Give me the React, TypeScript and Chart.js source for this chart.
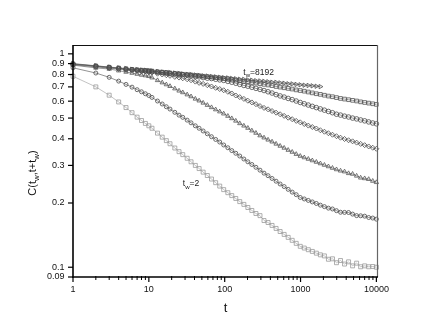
import React, { useEffect, useRef } from "react";
import { Chart, registerables } from "chart.js";

Chart.register(...registerables);

const FONT = '"Liberation Sans", Arial, Helvetica, sans-serif';

const TIMES = [
  1, 2, 3, 4, 5, 6, 7, 8, 9, 10,
  11, 13, 15, 17, 19, 22, 25, 28, 32, 36,
  41, 46, 52, 59, 67, 76, 86, 97, 110, 124,
  140, 158, 179, 202, 228, 258, 292, 330, 373, 421,
  476, 538, 608, 687, 776, 877, 991, 1120, 1266, 1430,
  1616, 1826, 2064, 2332, 2635, 2978, 3365, 3802, 4297, 4855,
  5486, 6199, 7005, 7916, 8945, 10000,
];

const TW_2 = [
  0.785, 0.70, 0.64, 0.595, 0.56, 0.53, 0.505, 0.487, 0.472, 0.46,
  0.448, 0.425, 0.407, 0.392, 0.379, 0.362, 0.348, 0.337, 0.324, 0.312,
  0.300, 0.290, 0.279, 0.269, 0.259, 0.249, 0.240, 0.231, 0.2235, 0.2166,
  0.210, 0.203, 0.197, 0.1905, 0.1845, 0.1786, 0.1745, 0.1655, 0.162, 0.157,
  0.152, 0.147, 0.1425, 0.138, 0.1337, 0.1294, 0.1253, 0.123, 0.1208, 0.1186,
  0.1164, 0.1143, 0.113, 0.109, 0.1095, 0.105, 0.1075, 0.1035, 0.106, 0.1015,
  0.1045, 0.1005, 0.1015, 0.1005, 0.1008, 0.100,
];

const TW_8 = [
  0.86, 0.813, 0.776, 0.745, 0.719, 0.698, 0.679, 0.664, 0.650, 0.638,
  0.625, 0.601, 0.582, 0.565, 0.551, 0.532, 0.516, 0.504, 0.489, 0.475,
  0.460, 0.448, 0.435, 0.422, 0.409, 0.397, 0.386, 0.374, 0.363, 0.352,
  0.342, 0.332, 0.3215, 0.312, 0.303, 0.294, 0.285, 0.276, 0.2685, 0.2606,
  0.253, 0.2455, 0.2388, 0.2317, 0.2249, 0.2188, 0.2123, 0.2089, 0.2056, 0.2023,
  0.199, 0.1954, 0.1923, 0.1892, 0.1875, 0.1841, 0.181, 0.1807, 0.1805, 0.1774,
  0.1745, 0.1742, 0.1735, 0.171, 0.1700, 0.168,
];

const TW_32 = [
  0.885, 0.859, 0.849, 0.834, 0.822, 0.813, 0.804, 0.796, 0.791, 0.785,
  0.773, 0.751, 0.733, 0.718, 0.705, 0.687, 0.671, 0.659, 0.644, 0.631,
  0.615, 0.603, 0.589, 0.575, 0.561, 0.548, 0.536, 0.524, 0.511, 0.498,
  0.485, 0.472, 0.460, 0.449, 0.4365, 0.4256, 0.414, 0.4045, 0.3954, 0.3873,
  0.3784, 0.370, 0.3622, 0.354, 0.3467, 0.3388, 0.3319, 0.3266, 0.3214, 0.3162,
  0.3112, 0.3062, 0.3013, 0.2965, 0.2917, 0.2871, 0.2831, 0.2805, 0.2754, 0.2735,
  0.2679, 0.2625, 0.2606, 0.2585, 0.2535, 0.25,
];

const TW_128 = [
  0.889, 0.869, 0.857, 0.849, 0.841, 0.838, 0.832, 0.828, 0.826, 0.822,
  0.817, 0.807, 0.80, 0.794, 0.789, 0.78, 0.774, 0.768, 0.760, 0.752,
  0.741, 0.731, 0.723, 0.713, 0.703, 0.693, 0.684, 0.675, 0.664, 0.652,
  0.638, 0.627, 0.615, 0.603, 0.592, 0.581, 0.569, 0.558, 0.5495, 0.5395,
  0.530, 0.521, 0.512, 0.502, 0.494, 0.485, 0.4775, 0.469, 0.461, 0.454,
  0.4467, 0.4385, 0.4315, 0.4246, 0.4178, 0.4111, 0.4046, 0.399, 0.3936, 0.389,
  0.3837, 0.3784, 0.3733, 0.3681, 0.3631, 0.359,
];

const TW_512 = [
  0.895, 0.875, 0.863, 0.855, 0.847, 0.843, 0.838, 0.834, 0.832, 0.828,
  0.826, 0.82, 0.817, 0.813, 0.809, 0.805, 0.802, 0.798, 0.794, 0.789,
  0.783, 0.78, 0.774, 0.769, 0.766, 0.760, 0.755, 0.751, 0.743, 0.736,
  0.728, 0.719, 0.711, 0.705, 0.697, 0.689, 0.681, 0.673, 0.664, 0.655,
  0.644, 0.635, 0.627, 0.618, 0.610, 0.601, 0.5916, 0.5834, 0.5754, 0.5675,
  0.5598, 0.552, 0.5445, 0.537, 0.5297, 0.5212, 0.5164, 0.5105, 0.5058, 0.50,
  0.4955, 0.49, 0.4853, 0.4797, 0.4742, 0.47,
];

const TW_2048 = [
  0.897, 0.877, 0.865, 0.857, 0.851, 0.845, 0.841, 0.838, 0.835, 0.832,
  0.83, 0.824, 0.82, 0.817, 0.813, 0.809, 0.805, 0.802, 0.798, 0.796,
  0.792, 0.789, 0.785, 0.782, 0.778, 0.774, 0.771, 0.767, 0.764, 0.759,
  0.753, 0.748, 0.743, 0.7396, 0.7345, 0.7295, 0.7244, 0.7194, 0.7145, 0.7096,
  0.7031, 0.6982, 0.6934, 0.6887, 0.6839, 0.6776, 0.673, 0.6683, 0.6622, 0.6561,
  0.6501, 0.6457, 0.6397, 0.6339, 0.6295, 0.6237, 0.618, 0.6138, 0.6095, 0.6053,
  0.6012, 0.5957, 0.5916, 0.5875, 0.5834, 0.5794,
];

const TW_8192 = [
  0.90, 0.879, 0.867, 0.859, 0.853, 0.847, 0.843, 0.839, 0.838, 0.834,
  0.832, 0.826, 0.822, 0.818, 0.817, 0.813, 0.809, 0.805, 0.802, 0.80,
  0.796, 0.793, 0.789, 0.787, 0.783, 0.78, 0.776, 0.773, 0.771, 0.767,
  0.764, 0.76, 0.759, 0.755, 0.752, 0.748, 0.746, 0.743, 0.74, 0.736,
  0.735, 0.731, 0.728, 0.724, 0.723, 0.719, 0.716, 0.713, 0.711, 0.708,
  0.705, 0.702,
];

const SERIES_NAMES = ["tw=2", "tw=8", "tw=32", "tw=128", "tw=512", "tw=2048", "tw=8192"];
const SERIES_VALUES = [TW_2, TW_8, TW_32, TW_128, TW_512, TW_2048, TW_8192];
const SERIES_MARKERS = ["rect", "circle", "triangle", "rectRot", "circle", "rect", "triangle"];
const SERIES_RADII = [2.8, 2, 2.5, 2.5, 2.3, 2.6, 2.5];
const SERIES_COLORS = ["#9a9a9a", "#4a4a4a", "#555555", "#4a4a4a", "#4a4a4a", "#555555", "#4a4a4a"];

const X_MAJOR = [1, 10, 100, 1000, 10000];
const X_MINOR = [
  2, 3, 4, 5, 6, 7, 8, 9,
  20, 30, 40, 50, 60, 70, 80, 90,
  200, 300, 400, 500, 600, 700, 800, 900,
  2000, 3000, 4000, 5000, 6000, 7000, 8000, 9000,
];
const Y_TICKS = [0.09, 0.1, 0.2, 0.3, 0.4, 0.5, 0.6, 0.7, 0.8, 0.9, 1];
const X_MIN = 1;
const X_MAX = 10500;
const Y_MIN = 0.09;
const Y_MAX = 1.1;

const ANNOTATIONS = [
  { t: 176, c: 0.80, parts: ["t", "w", "=8192"] },
  { t: 28, c: 0.239, parts: ["t", "w", "=2"] },
];

type Part = { text: string; sub?: boolean };

function drawRich(ctx: CanvasRenderingContext2D, parts: Part[], x: number, y: number, size: number, center: boolean) {
  const subSize = size * 0.72;
  let total = 0;
  for (const p of parts) {
    ctx.font = `${p.sub ? subSize : size}px ${FONT}`;
    total += ctx.measureText(p.text).width;
  }
  let cx = center ? x - total / 2 : x;
  ctx.textAlign = "left";
  ctx.textBaseline = "alphabetic";
  for (const p of parts) {
    ctx.font = `${p.sub ? subSize : size}px ${FONT}`;
    ctx.fillText(p.text, cx, p.sub ? y + size * 0.28 : y);
    cx += ctx.measureText(p.text).width;
  }
}

function seg(ctx: CanvasRenderingContext2D, x1: number, y1: number, x2: number, y2: number) {
  ctx.beginPath();
  ctx.moveTo(x1, y1);
  ctx.lineTo(x2, y2);
  ctx.stroke();
}

const decor = {
  id: "decor",
  afterDraw(chart: any) {
    const { ctx, chartArea: a, scales } = chart;
    const xs = scales.x;
    const ys = scales.y;
    ctx.save();
    ctx.strokeStyle = "#111";
    ctx.lineWidth = 1;
    seg(ctx, a.left, a.top + 0.5, a.right, a.top + 0.5);
    ctx.strokeStyle = "#666";
    ctx.lineWidth = 1.2;
    seg(ctx, a.right - 0.5, a.top, a.right - 0.5, a.bottom);
    ctx.strokeStyle = "#000";
    ctx.lineWidth = 1.6;
    seg(ctx, a.left, a.top, a.left, a.bottom + 0.8);
    seg(ctx, a.left - 0.8, a.bottom, a.right, a.bottom);
    ctx.lineWidth = 1.2;
    for (const v of X_MAJOR) {
      const px = xs.getPixelForValue(v);
      seg(ctx, px, a.bottom, px, a.bottom + 5);
    }
    ctx.lineWidth = 1;
    for (const v of X_MINOR) {
      const px = xs.getPixelForValue(v);
      seg(ctx, px, a.bottom - 1, px, a.bottom + 3);
    }
    ctx.lineWidth = 1.2;
    for (const v of Y_TICKS) {
      const py = ys.getPixelForValue(v);
      seg(ctx, a.left - 5, py, a.left, py);
    }
    ctx.fillStyle = "#111";
    drawRich(ctx, [{ text: "t" }], (a.left + a.right) / 2, 311.5, 13, true);
    ctx.save();
    ctx.translate(36, 173);
    ctx.rotate(-Math.PI / 2);
    drawRich(
      ctx,
      [
        { text: "C(t" },
        { text: "w", sub: true },
        { text: ",t+t" },
        { text: "w", sub: true },
        { text: ")" },
      ],
      0,
      0,
      11,
      true
    );
    ctx.restore();
    ctx.fillStyle = "#222";
    for (const an of ANNOTATIONS) {
      const px = xs.getPixelForValue(an.t);
      const py = ys.getPixelForValue(an.c);
      drawRich(
        ctx,
        [{ text: an.parts[0] }, { text: an.parts[1], sub: true }, { text: an.parts[2] }],
        px,
        py,
        8.5,
        false
      );
    }
    ctx.restore();
  },
};

export default function App() {
  const ref = useRef<HTMLCanvasElement>(null);

  useEffect(() => {
    const canvas = ref.current;
    if (!canvas) return;
    const datasets = SERIES_VALUES.map((vals, i) => ({
      label: SERIES_NAMES[i],
      data: vals.map((v, k) => ({ x: TIMES[k], y: v })),
      showLine: true,
      borderColor: SERIES_COLORS[i],
      borderWidth: 0.6,
      pointStyle: SERIES_MARKERS[i] as any,
      pointRadius: SERIES_RADII[i],
      pointBorderWidth: 0.8,
      pointBorderColor: SERIES_COLORS[i],
      pointBackgroundColor: "rgba(255,255,255,0)",
      pointRotation: i === 6 ? 90 : 0,
      clip: false as any,
    }));

    const chart = new Chart(canvas, {
      type: "scatter",
      data: { datasets },
      options: {
        animation: false,
        responsive: false,
        devicePixelRatio: 1,
        layout: { padding: { top: 45, right: 58, bottom: 0, left: 0 } },
        plugins: { legend: { display: false }, tooltip: { enabled: false } },
        scales: {
          x: {
            type: "logarithmic",
            min: X_MIN,
            max: X_MAX,
            afterBuildTicks: (s: any) => {
              s.ticks = X_MAJOR.map((v) => ({ value: v }));
            },
            afterFit: (s: any) => {
              s.height = 54;
            },
            ticks: {
              callback: (v: any) => String(v),
              font: { family: FONT, size: 9 },
              color: "#111",
              padding: 7,
              maxRotation: 0,
              autoSkip: false,
            },
            grid: { display: false, drawTicks: false },
            border: { display: false },
          },
          y: {
            type: "logarithmic",
            min: Y_MIN,
            max: Y_MAX,
            afterBuildTicks: (s: any) => {
              s.ticks = Y_TICKS.map((v) => ({ value: v }));
            },
            afterFit: (s: any) => {
              s.width = 73;
            },
            ticks: {
              callback: (v: any) => String(v),
              font: { family: FONT, size: 9 },
              color: "#111",
              padding: 8.5,
              autoSkip: false,
            },
            grid: { display: false, drawTicks: false },
            border: { display: false },
          },
        },
      },
      plugins: [decor],
    });
    return () => chart.destroy();
  }, []);

  return (
    <div style={{ position: "absolute", left: 0, top: 0, width: 436, height: 331, background: "#fff" }}>
      <canvas ref={ref} width={436} height={331} style={{ display: "block", width: 436, height: 331 }} />
    </div>
  );
}
